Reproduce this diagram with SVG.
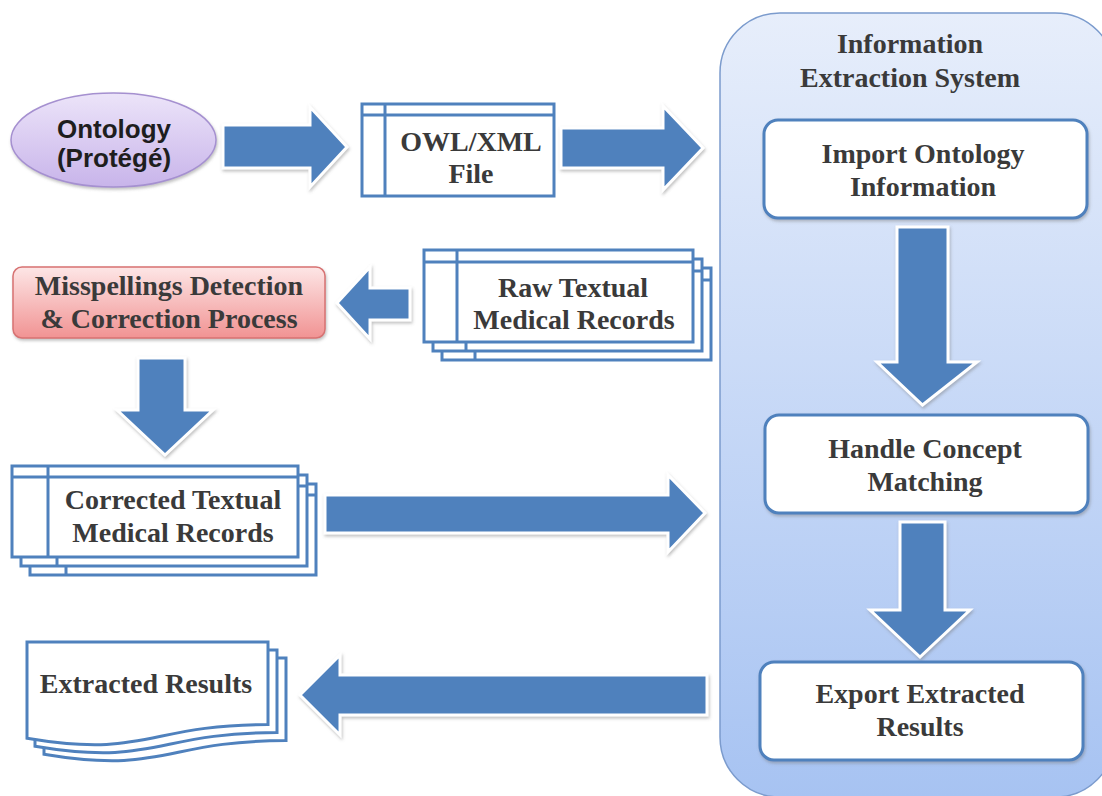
<svg xmlns="http://www.w3.org/2000/svg" width="1102" height="796" viewBox="0 0 1102 796">
<defs>
  <linearGradient id="gSys" x1="0" y1="0" x2="0" y2="1">
    <stop offset="0" stop-color="#e7eefb"/>
    <stop offset="1" stop-color="#a7c3f2"/>
  </linearGradient>
  <linearGradient id="gOnt" x1="0" y1="0" x2="0" y2="1">
    <stop offset="0" stop-color="#ece4f9"/>
    <stop offset="1" stop-color="#c8b4ea"/>
  </linearGradient>
  <linearGradient id="gMis" x1="0" y1="0" x2="0" y2="1">
    <stop offset="0" stop-color="#fde6e6"/>
    <stop offset="1" stop-color="#f19393"/>
  </linearGradient>
  <filter id="sh" x="-10%" y="-10%" width="120%" height="130%">
    <feDropShadow dx="1" dy="2" stdDeviation="1.5" flood-color="#777" flood-opacity="0.45"/>
  </filter>
  <style>
    .t{font-family:"Liberation Serif","Times New Roman",serif;font-weight:bold;font-size:28px;fill:#3a3a3a;text-anchor:middle}
    .s{font-family:"Liberation Sans",Arial,sans-serif;font-weight:bold;font-size:26px;fill:#1e1e1e;text-anchor:middle}
    .box{fill:#fff;stroke:#4f81bd;stroke-width:3}
    .ln{stroke:#4f81bd;stroke-width:3;fill:none}
    .arr{fill:#4f81bd;stroke:#fff;stroke-width:3;stroke-linejoin:miter;filter:url(#sh)}
    .inner{fill:#fff;stroke:#4f81bd;stroke-width:3;filter:url(#sh)}
  </style>
</defs>
<rect width="1102" height="796" fill="#fff"/>

<g id="ie-system">
  <rect x="720" y="13" width="395" height="784" rx="60" fill="url(#gSys)" stroke="#7b9bcd" stroke-width="1.5"/>
  <text class="t" x="910" y="53">Information</text>
  <text class="t" x="910" y="87">Extraction System</text>
</g>

<g id="connectors">
  <polygon class="arr" points="223,125 310,125 310,107 347,147 310,187 310,168 223,168"/>
  <polygon class="arr" points="561,128 663,128 663,106 703,148 663,190 663,168 561,168"/>
  <polygon class="arr" points="410,288 370,288 370,267 337,303 370,339 370,320 410,320"/>
  <polygon class="arr" points="138,358 185,358 185,410 213,410 165,455 117,410 138,410"/>
  <polygon class="arr" points="325,495 668,495 668,475 705,513 668,552 668,533 325,533"/>
  <polygon class="arr" points="707,675 340,675 340,655 300,695 340,735 340,715 707,715"/>
  <polygon class="arr" points="897,227 948,227 948,362 977,362 922.5,405 877,362 897,362"/>
  <polygon class="arr" points="900,522 945,522 945,610 970,610 920,657 870,610 900,610"/>
</g>

<g id="ontology">
  <ellipse cx="113.5" cy="140" rx="102.5" ry="47" fill="url(#gOnt)" stroke="#a590d0" stroke-width="1.5" filter="url(#sh)"/>
  <text class="s" x="114" y="138">Ontology</text>
  <text class="s" x="114" y="167">(Protégé)</text>
</g>

<g id="owl-file">
  <rect class="box" x="362" y="104" width="192" height="92"/>
  <line class="ln" x1="362" y1="115" x2="554" y2="115"/>
  <line class="ln" x1="385" y1="104" x2="385" y2="196"/>
  <text class="t" x="471" y="151">OWL/XML</text>
  <text class="t" x="471" y="183">File</text>
</g>

<g id="raw-records">
  <rect class="box" x="442" y="268" width="269" height="92"/>
  <line class="ln" x1="442" y1="280" x2="711" y2="280"/>
  <line class="ln" x1="475" y1="268" x2="475" y2="360"/>
  <rect class="box" x="433" y="259" width="269" height="92"/>
  <line class="ln" x1="433" y1="271" x2="702" y2="271"/>
  <line class="ln" x1="466" y1="259" x2="466" y2="351"/>
  <rect class="box" x="424" y="250" width="269" height="92"/>
  <line class="ln" x1="424" y1="262" x2="693" y2="262"/>
  <line class="ln" x1="457" y1="250" x2="457" y2="342"/>
  <text class="t" x="573" y="297">Raw Textual</text>
  <text class="t" x="574" y="329">Medical Records</text>
</g>

<g id="misspellings">
  <rect x="13" y="267" width="312" height="71" rx="9" fill="url(#gMis)" stroke="#d77272" stroke-width="1.5" filter="url(#sh)"/>
  <text class="t" x="169" y="295">Misspellings Detection</text>
  <text class="t" x="169" y="328">&amp; Correction Process</text>
</g>

<g id="corrected-records">
  <rect class="box" x="30" y="484" width="286" height="91"/>
  <line class="ln" x1="30" y1="495" x2="316" y2="495"/>
  <line class="ln" x1="66" y1="484" x2="66" y2="575"/>
  <rect class="box" x="21" y="475" width="286" height="91"/>
  <line class="ln" x1="21" y1="486" x2="307" y2="486"/>
  <line class="ln" x1="57" y1="475" x2="57" y2="566"/>
  <rect class="box" x="12" y="466" width="286" height="91"/>
  <line class="ln" x1="12" y1="477" x2="298" y2="477"/>
  <line class="ln" x1="48" y1="466" x2="48" y2="557"/>
  <text class="t" x="173" y="509">Corrected Textual</text>
  <text class="t" x="173" y="542">Medical Records</text>
</g>

<g id="extracted-results">
  <path class="box" d="M44,658 H286 V740.6 C165,740.6 165,774.6 44,754.2 Z"/>
  <path class="box" d="M35,650 H277 V732.6 C156,732.6 156,766.6 35,746.2 Z"/>
  <path class="box" d="M27,642 H268 V724.6 C147.5,724.6 147.5,758.6 27,738.2 Z"/>
  <text class="t" x="146" y="693">Extracted Results</text>
</g>

<g id="import-ontology">
  <rect class="inner" x="764" y="120" width="323" height="98" rx="14"/>
  <text class="t" x="923" y="163">Import Ontology</text>
  <text class="t" x="923" y="196">Information</text>
</g>

<g id="handle-matching">
  <rect class="inner" x="765" y="415" width="323" height="98" rx="14"/>
  <text class="t" x="925" y="458">Handle Concept</text>
  <text class="t" x="925" y="491">Matching</text>
</g>

<g id="export-results">
  <rect class="inner" x="760" y="662" width="323" height="98" rx="14"/>
  <text class="t" x="920" y="703">Export Extracted</text>
  <text class="t" x="920" y="736">Results</text>
</g>
</svg>
